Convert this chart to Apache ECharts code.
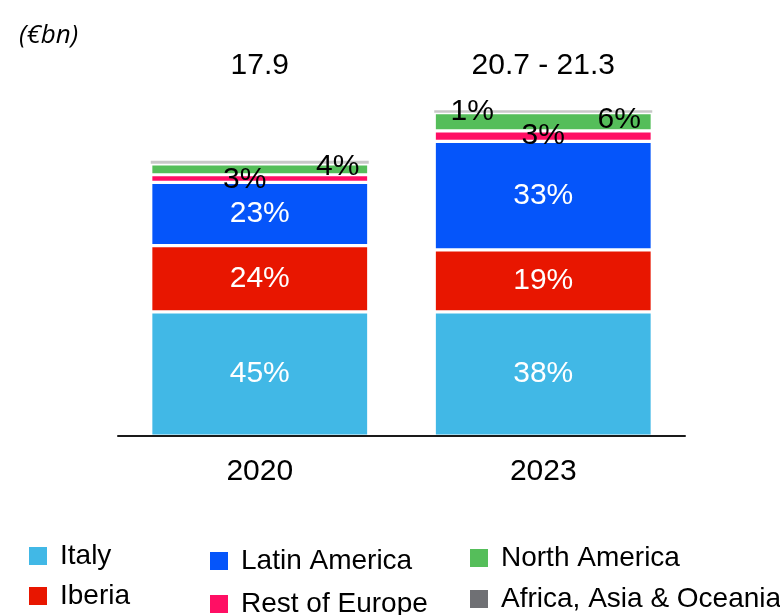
<!DOCTYPE html>
<html>
<head>
<meta charset="utf-8">
<script src="https://cdn.jsdelivr.net/npm/echarts@6/dist/echarts.min.js"></script>
<style>
html,body{margin:0;padding:0;background:#fff;}
#chart{width:780px;height:615px;}
</style>
</head>
<body>
<div id="chart"></div>
<script>
// ---- data (€bn) ----
const categories = ['2020', '2023'];
const totalLabels = ['17.9', '20.7 - 21.3'];

const italy = [8.05, 8.05];
const iberia = [4.3, 4.02];
const latinAmerica = [4.1, 7.04];
const restOfEurope = [0.49, 0.68];
const northAmerica = [0.71, 1.17];
const africaAsiaOceania = [0.2, 0.17];

const italyLabels = ['45%', '38%'];
const iberiaLabels = ['24%', '19%'];
const latinAmericaLabels = ['23%', '33%'];
const restOfEuropeLabels = ['3%', '3%'];
const northAmericaLabels = ['4%', '6%'];
const africaAsiaOceaniaLabels = ['', '1%'];

// ---- styling ----
const FONT = 'Liberation Sans, Arial, sans-serif';
const seriesDefs = [
  { name: 'Italy', data: italy, labels: italyLabels, color: '#41B8E6', labelColor: '#fff', offsets: [[0,0],[0,0]] },
  { name: 'Iberia', data: iberia, labels: iberiaLabels, color: '#E81600', labelColor: '#fff', offsets: [[0,0],[0,0]] },
  { name: 'Latin America', data: latinAmerica, labels: latinAmericaLabels, color: '#0555FA', labelColor: '#fff', offsets: [[0,0],[0,0]] },
  { name: 'Rest of Europe', data: restOfEurope, labels: restOfEuropeLabels, color: '#FF0F64', labelColor: '#000', offsets: [[-15,1],[0,0]] },
  { name: 'North America', data: northAmerica, labels: northAmericaLabels, color: '#55BE5A', labelColor: '#000', offsets: [[78,-3],[76,-2.5]] },
  { name: 'Africa, Asia & Oceania', data: africaAsiaOceania, labels: africaAsiaOceaniaLabels, color: '#C8C8C8', labelColor: '#000', offsets: [[0,0],[-71,0]], noBorder: true, legendColor: '#6F7074' }
];

const legendPos = [
  { left: 29, top: 542 },   // Italy
  { left: 29, top: 582 },   // Iberia
  { left: 210, top: 547 },  // Latin America
  { left: 210, top: 590 },  // Rest of Europe
  { left: 470, top: 544 },  // North America
  { left: 470, top: 585 }   // Africa
];

const series = seriesDefs.map(d => ({
  name: d.name,
  type: 'bar',
  stack: 'total',
  barWidth: 218,
  itemStyle: {
    color: d.color,
    borderColor: d.noBorder ? d.color : '#fff',
    borderWidth: d.noBorder ? 0 : 1.6
  },
  label: {
    show: true,
    position: 'inside',
    color: d.labelColor,
    fontFamily: FONT,
    fontSize: 30,
    formatter: p => d.labels[p.dataIndex]
  },
  emphasis: { disabled: true },
  data: d.data.map((v, i) => ({ value: v, label: { offset: d.offsets[i] } }))
}));

const legends = seriesDefs.map((d, i) => ({
  left: legendPos[i].left,
  top: legendPos[i].top,
  padding: 0,
  orient: 'horizontal',
  icon: 'rect',
  itemWidth: 18,
  itemHeight: 18,
  selectedMode: false,
  itemStyle: { borderWidth: 0 },
  textStyle: { fontFamily: FONT, fontSize: 28, color: '#000', padding: [0, 0, 0, 8] },
  data: [{ name: d.name, itemStyle: { color: d.legendColor || d.color, borderWidth: 0 } }]
}));

const chart = echarts.init(document.getElementById('chart'), null, { renderer: 'canvas' });
chart.setOption({
  animation: false,
  backgroundColor: '#fff',
  title: {
    text: '(€bn)',
    left: 14,
    top: 18,
    textStyle: { fontFamily: 'Open Sans, DejaVu Sans, sans-serif', fontStyle: 'italic', fontWeight: 'normal', fontSize: 26, color: '#000' }
  },
  legend: legends,
  grid: { left: 118, right: 95, top: 89, bottom: 179, containLabel: false },
  xAxis: [
    {
      type: 'category',
      data: categories,
      z: 10,
      axisLine: { show: true, lineStyle: { color: '#1a1a1a', width: 2 } },
      axisTick: { show: false },
      axisLabel: { fontFamily: FONT, fontSize: 30, color: '#000', margin: 21 }
    },
    {
      type: 'category',
      position: 'top',
      data: totalLabels,
      axisLine: { show: false },
      axisTick: { show: false },
      axisLabel: { fontFamily: FONT, fontSize: 30, color: '#000', margin: 8 }
    }
  ],
  yAxis: { type: 'value', min: 0, max: 22.5, show: false, splitLine: { show: false } },
  series: series
});
</script>
</body>
</html>
